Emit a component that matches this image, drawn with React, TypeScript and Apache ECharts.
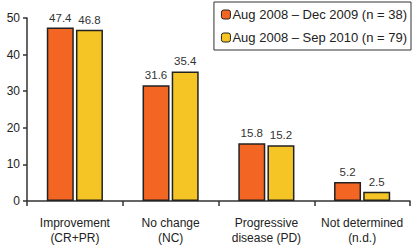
import React, { useEffect, useRef } from "react";
import * as echarts from "echarts";

const categories = ["Improvement\n(CR+PR)", "No change\n(NC)", "Progressive\ndisease (PD)", "Not determined\n(n.d.)"];
const seriesNames = ["Aug 2008 – Dec 2009 (n = 38)", "Aug 2008 – Sep 2010 (n = 79)"];
const series2009 = [47.4, 31.6, 15.8, 5.2];
const series2010 = [46.8, 35.4, 15.2, 2.5];
const yTicks = [0, 10, 20, 30, 40, 50];

export default function App() {
  const ref = useRef<HTMLDivElement>(null);
  useEffect(() => {
    const chart = echarts.init(ref.current!, null, { renderer: "svg" });
    const font = "Liberation Sans, Arial, sans-serif";
    const mk = (name: string, data: number[], color: string) => ({
      name,
      type: "bar",
      data,
      barWidth: 27,
      barGap: "8%",
      itemStyle: { color, borderColor: "#222", borderWidth: 1.5 },
      label: {
        show: true,
        position: "top",
        distance: 4,
        fontFamily: font,
        fontSize: 11.5,
        color: "#333",
        formatter: (p: any) => p.value.toFixed(1),
      },
    });
    chart.setOption({
      animation: false,
      grid: { left: 27, right: 2, top: 18, bottom: 46, containLabel: false },
      legend: {
        orient: "vertical",
        right: 1,
        top: 2,
        itemWidth: 9,
        itemHeight: 9,
        itemGap: 10,
        padding: [6, 4, 6, 7],
        borderColor: "#333",
        borderWidth: 1,
        backgroundColor: "#fff",
        textStyle: { fontFamily: font, fontSize: 13, color: "#222", padding: [0, 0, 0, -3] },
        itemStyle: { borderColor: "#222", borderWidth: 1 },
        data: seriesNames,
      },
      xAxis: {
        type: "category",
        data: categories,
        axisLine: { lineStyle: { color: "#333", width: 1.5 } },
        axisTick: { show: true, length: 5, lineStyle: { color: "#333", width: 1.5 } },
        axisLabel: { interval: 0, fontFamily: font, fontSize: 12, color: "#222", margin: 14, lineHeight: 15 },
      },
      yAxis: {
        type: "value",
        min: yTicks[0],
        max: yTicks[yTicks.length - 1],
        interval: 10,
        splitLine: { show: false },
        axisLine: { show: true, lineStyle: { color: "#333", width: 1.5 } },
        axisTick: { show: true, length: 4, lineStyle: { color: "#333", width: 1.5 } },
        axisLabel: { fontFamily: font, fontSize: 12, color: "#222", margin: 7 },
      },
      series: [mk(seriesNames[0], series2009, "#F26522"), mk(seriesNames[1], series2010, "#F4C524")],
    });
    return () => chart.dispose();
  }, []);
  return <div ref={ref} style={{ width: 412, height: 247, position: "absolute", left: 0, top: 0 }} />;
}
